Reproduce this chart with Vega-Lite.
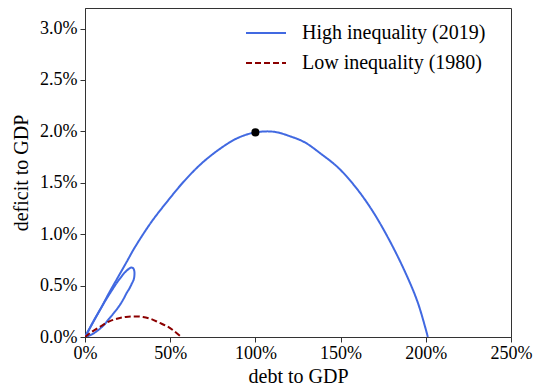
{
  "$schema": "https://vega.github.io/schema/vega-lite/v6.json",
  "width": 426,
  "height": 329,
  "autosize": {"type": "none"},
  "padding": {"left": 85, "top": 8, "right": 23, "bottom": 51},
  "config": {
    "font": "Liberation Serif",
    "view": {"stroke": "#333", "strokeWidth": 1},
    "axis": {
      "grid": false,
      "domainColor": "#333",
      "tickColor": "#333",
      "tickSize": 5,
      "labelFlush": false,
      "labelColor": "black",
      "labelFontSize": 18,
      "titleFontSize": 20,
      "titleFontWeight": "normal",
      "titleColor": "black"
    }
  },
  "datasets": {
    "paths": [
      {"series": "High inequality (2019)", "part": "loop", "t": 0, "debt": 0, "deficit": 0},
      {"series": "High inequality (2019)", "part": "loop", "t": 1, "debt": 4, "deficit": 0.12},
      {"series": "High inequality (2019)", "part": "loop", "t": 2, "debt": 8, "deficit": 0.24},
      {"series": "High inequality (2019)", "part": "loop", "t": 3, "debt": 12, "deficit": 0.355},
      {"series": "High inequality (2019)", "part": "loop", "t": 4, "debt": 16, "deficit": 0.46},
      {"series": "High inequality (2019)", "part": "loop", "t": 5, "debt": 19, "deficit": 0.535},
      {"series": "High inequality (2019)", "part": "loop", "t": 6, "debt": 21.5, "deficit": 0.59},
      {"series": "High inequality (2019)", "part": "loop", "t": 7, "debt": 23.5, "deficit": 0.63},
      {"series": "High inequality (2019)", "part": "loop", "t": 8, "debt": 25.5, "deficit": 0.66},
      {"series": "High inequality (2019)", "part": "loop", "t": 9, "debt": 27, "deficit": 0.675},
      {"series": "High inequality (2019)", "part": "loop", "t": 10, "debt": 28.2, "deficit": 0.67},
      {"series": "High inequality (2019)", "part": "loop", "t": 11, "debt": 28.9, "deficit": 0.645},
      {"series": "High inequality (2019)", "part": "loop", "t": 12, "debt": 29, "deficit": 0.6},
      {"series": "High inequality (2019)", "part": "loop", "t": 13, "debt": 28.6, "deficit": 0.56},
      {"series": "High inequality (2019)", "part": "loop", "t": 14, "debt": 27.5, "deficit": 0.52},
      {"series": "High inequality (2019)", "part": "loop", "t": 15, "debt": 26, "deficit": 0.47},
      {"series": "High inequality (2019)", "part": "loop", "t": 16, "debt": 24.5, "deficit": 0.43},
      {"series": "High inequality (2019)", "part": "loop", "t": 17, "debt": 22.6, "deficit": 0.37},
      {"series": "High inequality (2019)", "part": "loop", "t": 18, "debt": 20, "deficit": 0.3},
      {"series": "High inequality (2019)", "part": "loop", "t": 19, "debt": 17, "deficit": 0.235},
      {"series": "High inequality (2019)", "part": "loop", "t": 20, "debt": 14, "deficit": 0.175},
      {"series": "High inequality (2019)", "part": "loop", "t": 21, "debt": 11, "deficit": 0.115},
      {"series": "High inequality (2019)", "part": "loop", "t": 22, "debt": 8, "deficit": 0.07},
      {"series": "High inequality (2019)", "part": "loop", "t": 23, "debt": 5, "deficit": 0.035},
      {"series": "High inequality (2019)", "part": "loop", "t": 24, "debt": 2, "deficit": 0.01},
      {"series": "High inequality (2019)", "part": "loop", "t": 25, "debt": 0, "deficit": 0},
      {"series": "High inequality (2019)", "part": "arc", "t": 26, "debt": 0, "deficit": 0},
      {"series": "High inequality (2019)", "part": "arc", "t": 27, "debt": 5, "deficit": 0.155},
      {"series": "High inequality (2019)", "part": "arc", "t": 28, "debt": 9.5, "deficit": 0.285},
      {"series": "High inequality (2019)", "part": "arc", "t": 29, "debt": 14, "deficit": 0.425},
      {"series": "High inequality (2019)", "part": "arc", "t": 30, "debt": 19.3, "deficit": 0.58},
      {"series": "High inequality (2019)", "part": "arc", "t": 31, "debt": 24.6, "deficit": 0.735},
      {"series": "High inequality (2019)", "part": "arc", "t": 32, "debt": 29, "deficit": 0.865},
      {"series": "High inequality (2019)", "part": "arc", "t": 33, "debt": 38.8, "deficit": 1.115},
      {"series": "High inequality (2019)", "part": "arc", "t": 34, "debt": 48.6, "deficit": 1.325},
      {"series": "High inequality (2019)", "part": "arc", "t": 35, "debt": 58.4, "deficit": 1.52},
      {"series": "High inequality (2019)", "part": "arc", "t": 36, "debt": 68.2, "deficit": 1.685},
      {"series": "High inequality (2019)", "part": "arc", "t": 37, "debt": 77.9, "deficit": 1.815},
      {"series": "High inequality (2019)", "part": "arc", "t": 38, "debt": 87.7, "deficit": 1.92},
      {"series": "High inequality (2019)", "part": "arc", "t": 39, "debt": 95, "deficit": 1.97},
      {"series": "High inequality (2019)", "part": "arc", "t": 40, "debt": 100, "deficit": 1.99},
      {"series": "High inequality (2019)", "part": "arc", "t": 41, "debt": 107.3, "deficit": 2.0},
      {"series": "High inequality (2019)", "part": "arc", "t": 42, "debt": 113, "deficit": 1.99},
      {"series": "High inequality (2019)", "part": "arc", "t": 43, "debt": 119, "deficit": 1.96},
      {"series": "High inequality (2019)", "part": "arc", "t": 44, "debt": 128.8, "deficit": 1.895},
      {"series": "High inequality (2019)", "part": "arc", "t": 45, "debt": 138.6, "deficit": 1.78},
      {"series": "High inequality (2019)", "part": "arc", "t": 46, "debt": 148.4, "deficit": 1.65},
      {"series": "High inequality (2019)", "part": "arc", "t": 47, "debt": 158.2, "deficit": 1.47},
      {"series": "High inequality (2019)", "part": "arc", "t": 48, "debt": 168, "deficit": 1.245},
      {"series": "High inequality (2019)", "part": "arc", "t": 49, "debt": 177.7, "deficit": 0.97},
      {"series": "High inequality (2019)", "part": "arc", "t": 50, "debt": 187.5, "deficit": 0.645},
      {"series": "High inequality (2019)", "part": "arc", "t": 51, "debt": 195.3, "deficit": 0.335},
      {"series": "High inequality (2019)", "part": "arc", "t": 52, "debt": 201.2, "deficit": 0},
      {"series": "Low inequality (1980)", "part": "arc", "t": 0, "debt": 0, "deficit": 0},
      {"series": "Low inequality (1980)", "part": "arc", "t": 1, "debt": 3.6, "deficit": 0.045},
      {"series": "Low inequality (1980)", "part": "arc", "t": 2, "debt": 9.5, "deficit": 0.107},
      {"series": "Low inequality (1980)", "part": "arc", "t": 3, "debt": 14, "deficit": 0.15},
      {"series": "Low inequality (1980)", "part": "arc", "t": 4, "debt": 19.3, "deficit": 0.18},
      {"series": "Low inequality (1980)", "part": "arc", "t": 5, "debt": 24, "deficit": 0.195},
      {"series": "Low inequality (1980)", "part": "arc", "t": 6, "debt": 29, "deficit": 0.2},
      {"series": "Low inequality (1980)", "part": "arc", "t": 7, "debt": 34, "deficit": 0.195},
      {"series": "Low inequality (1980)", "part": "arc", "t": 8, "debt": 38.8, "deficit": 0.175},
      {"series": "Low inequality (1980)", "part": "arc", "t": 9, "debt": 43.5, "deficit": 0.14},
      {"series": "Low inequality (1980)", "part": "arc", "t": 10, "debt": 48.6, "deficit": 0.1},
      {"series": "Low inequality (1980)", "part": "arc", "t": 11, "debt": 52.5, "deficit": 0.055},
      {"series": "Low inequality (1980)", "part": "arc", "t": 12, "debt": 56.5, "deficit": 0}
    ],
    "marker": [
      {"debt": 100, "deficit": 1.99}
    ]
  },
  "layer": [
    {
      "mark": {"type": "rule", "color": "#888", "strokeWidth": 1, "strokeDash": [2, 2]},
      "encoding": {"y": {"datum": 0}}
    },
    {
      "data": {"name": "paths"},
      "mark": {"type": "line", "strokeWidth": 2, "interpolate": "catmull-rom", "clip": true},
      "encoding": {
        "x": {
          "field": "debt", "type": "quantitative",
          "scale": {"domain": [0, 250], "nice": false, "zero": false},
          "axis": {"values": [0, 50, 100, 150, 200, 250], "labelExpr": "format(datum.value, '.0f') + '%'", "title": "debt to GDP", "titlePadding": 4, "labelPadding": 2}
        },
        "y": {
          "field": "deficit", "type": "quantitative",
          "scale": {"domain": [0, 3.2], "nice": false, "zero": false},
          "axis": {"values": [0, 0.5, 1, 1.5, 2, 2.5, 3], "labelExpr": "format(datum.value, '.1f') + '%'", "title": "deficit to GDP", "titlePadding": 8, "labelPadding": 3}
        },
        "order": {"field": "t", "type": "quantitative"},
        "detail": {"field": "part", "type": "nominal"},
        "color": {
          "field": "series", "type": "nominal",
          "scale": {"domain": ["High inequality (2019)", "Low inequality (1980)"], "range": ["#4169e1", "#8b0000"]},
          "legend": {
            "title": null,
            "orient": "none",
            "legendX": 160,
            "legendY": 13,
            "symbolType": "stroke",
            "symbolSize": 1600,
            "symbolStrokeWidth": 2,
            "labelFontSize": 20,
            "labelOffset": 15,
            "labelLimit": 400,
            "clipHeight": 24,
            "rowPadding": 6,
            "labelColor": "black"
          }
        },
        "strokeDash": {
          "field": "series", "type": "nominal",
          "scale": {"domain": ["High inequality (2019)", "Low inequality (1980)"], "range": [[1, 0], [6, 3]]},
          "legend": null
        }
      }
    },
    {
      "data": {"name": "marker"},
      "mark": {"type": "point", "filled": true, "color": "black", "opacity": 1, "size": 65},
      "encoding": {
        "x": {"field": "debt", "type": "quantitative"},
        "y": {"field": "deficit", "type": "quantitative"}
      }
    }
  ]
}
